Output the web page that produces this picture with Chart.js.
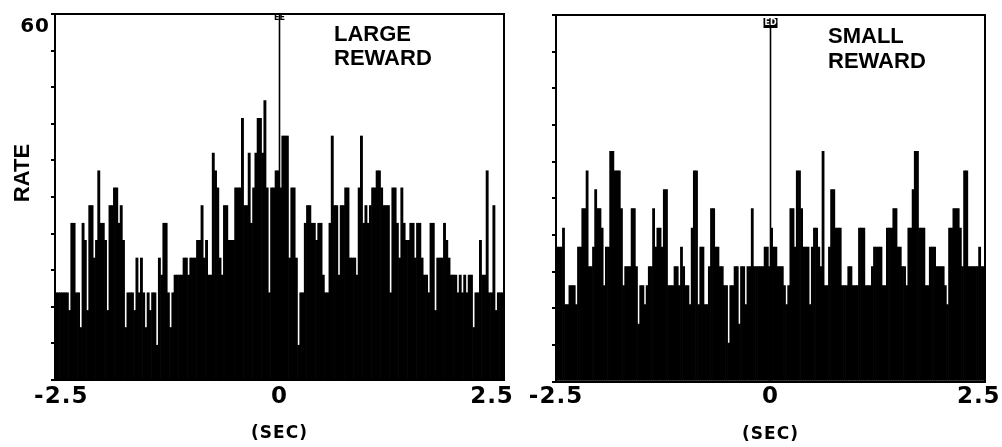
<!DOCTYPE html>
<html><head><meta charset="utf-8">
<script src="https://cdn.jsdelivr.net/npm/chart.js@4.4.1/dist/chart.umd.min.js"></script>
<style>
html,body{margin:0;padding:0;background:#fff;}
#wrap{position:relative;width:1002px;height:447px;overflow:hidden;background:#fff;}
canvas{position:absolute;left:0;top:0;}
</style></head><body>
<div id="wrap"><canvas id="c1" width="1002" height="447"></canvas><canvas id="c2" width="1002" height="447"></canvas></div>
<script>
// ---- data ----
const binStartSec = -2.5;
const binWidthSec = 0.025;
const xTickValues = [-2.5, 0, 2.5];
const xTickLabels = ['-2.5', '0', '2.5'];
const yTickValues = [0, 6, 12, 18, 24, 30, 36, 42, 48, 54, 60];
const yTickLabelsLeft = [60];
const yTickLabelsRight = [];
const eventTime = 0;

const largeRewardRate = [
14.3,14.3,14.3,14.3,14.3,14.3,11.4,25.7,25.7,14.3,
14.3,8.6,25.7,22.9,11.4,28.6,28.6,20.0,22.9,34.3,
25.7,25.7,22.9,11.4,28.6,28.6,31.5,31.5,25.7,28.6,
22.9,8.6,14.3,14.3,14.3,11.4,20.0,14.3,20.0,14.3,
8.6,14.3,11.4,14.3,14.3,5.7,20.0,17.2,25.7,25.7,
14.3,8.6,14.3,17.2,17.2,17.2,17.2,20.0,20.0,17.2,
20.0,20.0,20.0,22.9,22.9,28.6,20.0,22.9,17.2,17.2,
37.2,34.3,31.5,20.0,17.2,28.6,28.6,22.9,22.9,22.9,
31.5,31.5,31.5,42.9,28.6,28.6,37.2,25.7,31.5,37.2,
42.9,42.9,37.2,45.8,31.5,14.3,31.5,31.5,34.3,34.3,
31.5,40.0,40.0,40.0,20.0,31.5,31.5,20.0,5.7,14.3,
14.3,25.7,28.6,28.6,25.7,25.7,22.9,25.7,25.7,17.2,
14.3,14.3,25.7,40.0,28.6,28.6,17.2,28.6,28.6,31.5,
31.5,20.0,20.0,20.0,17.2,31.5,40.0,25.7,28.6,25.7,
28.6,31.5,31.5,34.3,34.3,31.5,28.6,28.6,28.6,14.3,
31.5,31.5,25.7,20.0,31.5,25.7,22.9,22.9,25.7,25.7,
20.0,25.7,25.7,20.0,17.2,17.2,14.3,25.7,25.7,11.4,
20.0,20.0,20.0,25.7,22.9,20.0,17.2,17.2,17.2,14.3,
17.2,14.3,17.2,14.3,17.2,17.2,8.6,14.3,14.3,22.9,
17.2,17.2,34.3,14.3,14.3,28.6,11.4,14.3,14.3,14.3];

const smallRewardRate = [
22.0,22.0,22.0,25.1,12.6,12.6,15.7,15.7,15.7,12.6,
22.0,22.0,28.3,28.3,34.5,18.8,18.8,22.0,31.4,28.3,
28.3,25.1,15.7,22.0,22.0,37.7,37.7,34.5,34.5,34.5,
28.3,15.7,18.8,18.8,18.8,28.3,28.3,18.8,9.4,15.7,
15.7,12.6,15.7,18.8,18.8,28.3,22.0,25.1,25.1,22.0,
31.4,31.4,15.7,15.7,15.7,18.8,18.8,15.7,22.0,18.8,
15.7,15.7,12.6,25.1,34.5,34.5,12.6,22.0,22.0,12.6,
12.6,18.8,28.3,28.3,22.0,22.0,18.8,18.8,15.7,15.7,
6.3,15.7,15.7,18.8,18.8,9.4,18.8,18.8,12.6,18.8,
18.8,28.3,18.8,18.8,18.8,18.8,18.8,22.0,22.0,18.8,
25.1,22.0,22.0,18.8,18.8,18.8,15.7,12.6,15.7,28.3,
28.3,22.0,34.5,34.5,28.3,22.0,22.0,22.0,12.6,22.0,
25.1,25.1,22.0,18.8,37.7,15.7,15.7,22.0,31.4,31.4,
25.1,25.1,25.1,15.7,15.7,15.7,18.8,18.8,15.7,15.7,
15.7,25.1,25.1,25.1,15.7,15.7,15.7,18.8,22.0,22.0,
22.0,22.0,15.7,15.7,25.1,25.1,25.1,28.3,28.3,22.0,
22.0,18.8,18.8,15.7,25.1,25.1,31.4,37.7,37.7,25.1,
25.1,25.1,15.7,15.7,22.0,22.0,22.0,18.8,18.8,18.8,
18.8,15.7,12.6,25.1,25.1,28.3,28.3,28.3,25.1,18.8,
34.5,34.5,18.8,18.8,18.8,18.8,18.8,22.0,18.8,18.8];

// bin centres (seconds) for the 200 bins
const binCenters = largeRewardRate.map((_, i) => binStartSec + binWidthSec * (i + 0.5));

// ---- drawing helpers ----
const decor = {
  id: 'decor',
  beforeDraw(chart) { chart.ctx.letterSpacing = '1px'; },
  beforeDatasetsDraw(chart) { chart.ctx.letterSpacing = '0px'; },
  afterDatasetsDraw(chart, args, o) {
    const {ctx, chartArea: a} = chart;
    ctx.save();
    ctx.letterSpacing = '0px';
    ctx.strokeStyle = '#000'; ctx.lineWidth = 2;
    ctx.beginPath();
    ctx.moveTo(a.left - 1, a.top); ctx.lineTo(a.right, a.top); ctx.lineTo(a.right, a.bottom);
    ctx.stroke();
    ctx.fillStyle = '#000';
    ctx.font = 'bold ' + o.labelSize + 'px "Liberation Sans", Arial, sans-serif';
    ctx.textAlign = 'left'; ctx.textBaseline = 'alphabetic';
    o.label.forEach((t, i) => ctx.fillText(t, a.left + o.labelDx, a.top + o.labelDy + i * o.labelLead));
    const xm = chart.scales.x.getPixelForValue(eventTime);
    ctx.font = 'bold 8px "DejaVu Sans", sans-serif';
    ctx.textAlign = 'center'; ctx.textBaseline = 'middle';
    if (o.tagBox) {
      ctx.fillRect(xm - 7, a.top + o.tagDy - 5, 14, 10);
      ctx.fillStyle = '#fff';
    }
    ctx.fillText(o.tag, xm, a.top + o.tagDy);
    if (o.yTitle) {
      ctx.fillStyle = '#000';
      ctx.translate(o.yTitleX, o.yTitleY);
      ctx.rotate(-Math.PI / 2);
      ctx.font = 'bold 22px "Liberation Sans", Arial, sans-serif';
      ctx.fillText(o.yTitle, 0, 0);
    }
    ctx.restore();
  }
};

function makePanel(id, rates, cfg) {
  return new Chart(document.getElementById(id), {
    type: 'bar',
    data: {
      datasets: [
        {
          type: 'bar',
          data: binCenters.map((x, i) => ({x: x, y: rates[i]})),
          backgroundColor: '#000',
          borderWidth: 0,
          barPercentage: 1,
          categoryPercentage: 1,
          order: 2
        },
        {
          type: 'line',
          data: [{x: eventTime, y: 0}, {x: eventTime, y: cfg.markerTop}],
          borderColor: '#000',
          borderWidth: 1.6,
          pointRadius: 0,
          order: 1
        }
      ]
    },
    options: {
      responsive: false,
      animation: false,
      devicePixelRatio: 1,
      layout: {padding: {left: cfg.padL, right: cfg.padR, top: cfg.padT, bottom: 0}},
      plugins: {
        legend: {display: false},
        tooltip: {enabled: false},
        decor: cfg.decor
      },
      scales: {
        x: {
          type: 'linear', min: -2.5, max: 2.5, offset: false,
          afterBuildTicks: s => { s.ticks = xTickValues.map(v => ({value: v})); },
          ticks: {
            callback: (v, i) => cfg.lead[i] + xTickLabels[i] + cfg.trail[i],
            font: {family: '"DejaVu Sans", sans-serif', weight: 'bold', size: 23},
            color: '#000', padding: cfg.xTickPad, maxRotation: 0, autoSkip: false
          },
          grid: {display: false, drawTicks: false},
          border: {display: true, color: '#000', width: 2},
          title: {
            display: true, text: '(SEC)', color: '#000',
            font: {family: '"DejaVu Sans", sans-serif', weight: 'bold', size: 17},
            padding: {top: 0, bottom: cfg.titlePad}
          },
          afterFit: s => { s.height = cfg.xHeight; s.paddingLeft = 0; s.paddingRight = 0; }
        },
        y: {
          min: 0, max: 60,
          afterBuildTicks: s => { s.ticks = yTickValues.map(v => ({value: v})); },
          ticks: {
            callback: v => cfg.yLabels.includes(v) ? String(v) : '',
            font: {family: '"DejaVu Sans", sans-serif', weight: 'bold', size: 20},
            color: '#000', padding: 1, labelOffset: 13, autoSkip: false
          },
          grid: {drawOnChartArea: false, drawTicks: true, tickLength: 4, lineWidth: 2, color: '#000'},
          border: {display: true, color: '#000', width: 2},
          afterFit: s => { s.width = 55; }
        }
      }
    },
    plugins: [decor]
  });
}

makePanel('c1', largeRewardRate, {
  padL: 0, padR: 498, padT: 14, xHeight: 67, xTickPad: 3, titlePad: 3, markerTop: 60,
  lead: ['\u2002', '', ''], trail: ['', '', '\u2003'],
  yLabels: yTickLabelsLeft,
  decor: {label: ['LARGE', 'REWARD'], labelSize: 22, labelDx: 279, labelDy: 27, labelLead: 24,
          tag: 'EE', tagDy: 4, tagBox: false, yTitle: 'RATE', yTitleX: 23, yTitleY: 173}
});
makePanel('c2', smallRewardRate, {
  padL: 501, padR: 17, padT: 15, xHeight: 65.5, xTickPad: 2, titlePad: 2, markerTop: 58,
  lead: ['', '', ''], trail: ['', '', '\u2002'],
  yLabels: yTickLabelsRight,
  decor: {label: ['SMALL', 'REWARD'], labelSize: 22, labelDx: 272, labelDy: 28, labelLead: 25,
          tag: 'ED', tagDy: 8, tagBox: true, yTitle: null}
});
</script></body></html>
